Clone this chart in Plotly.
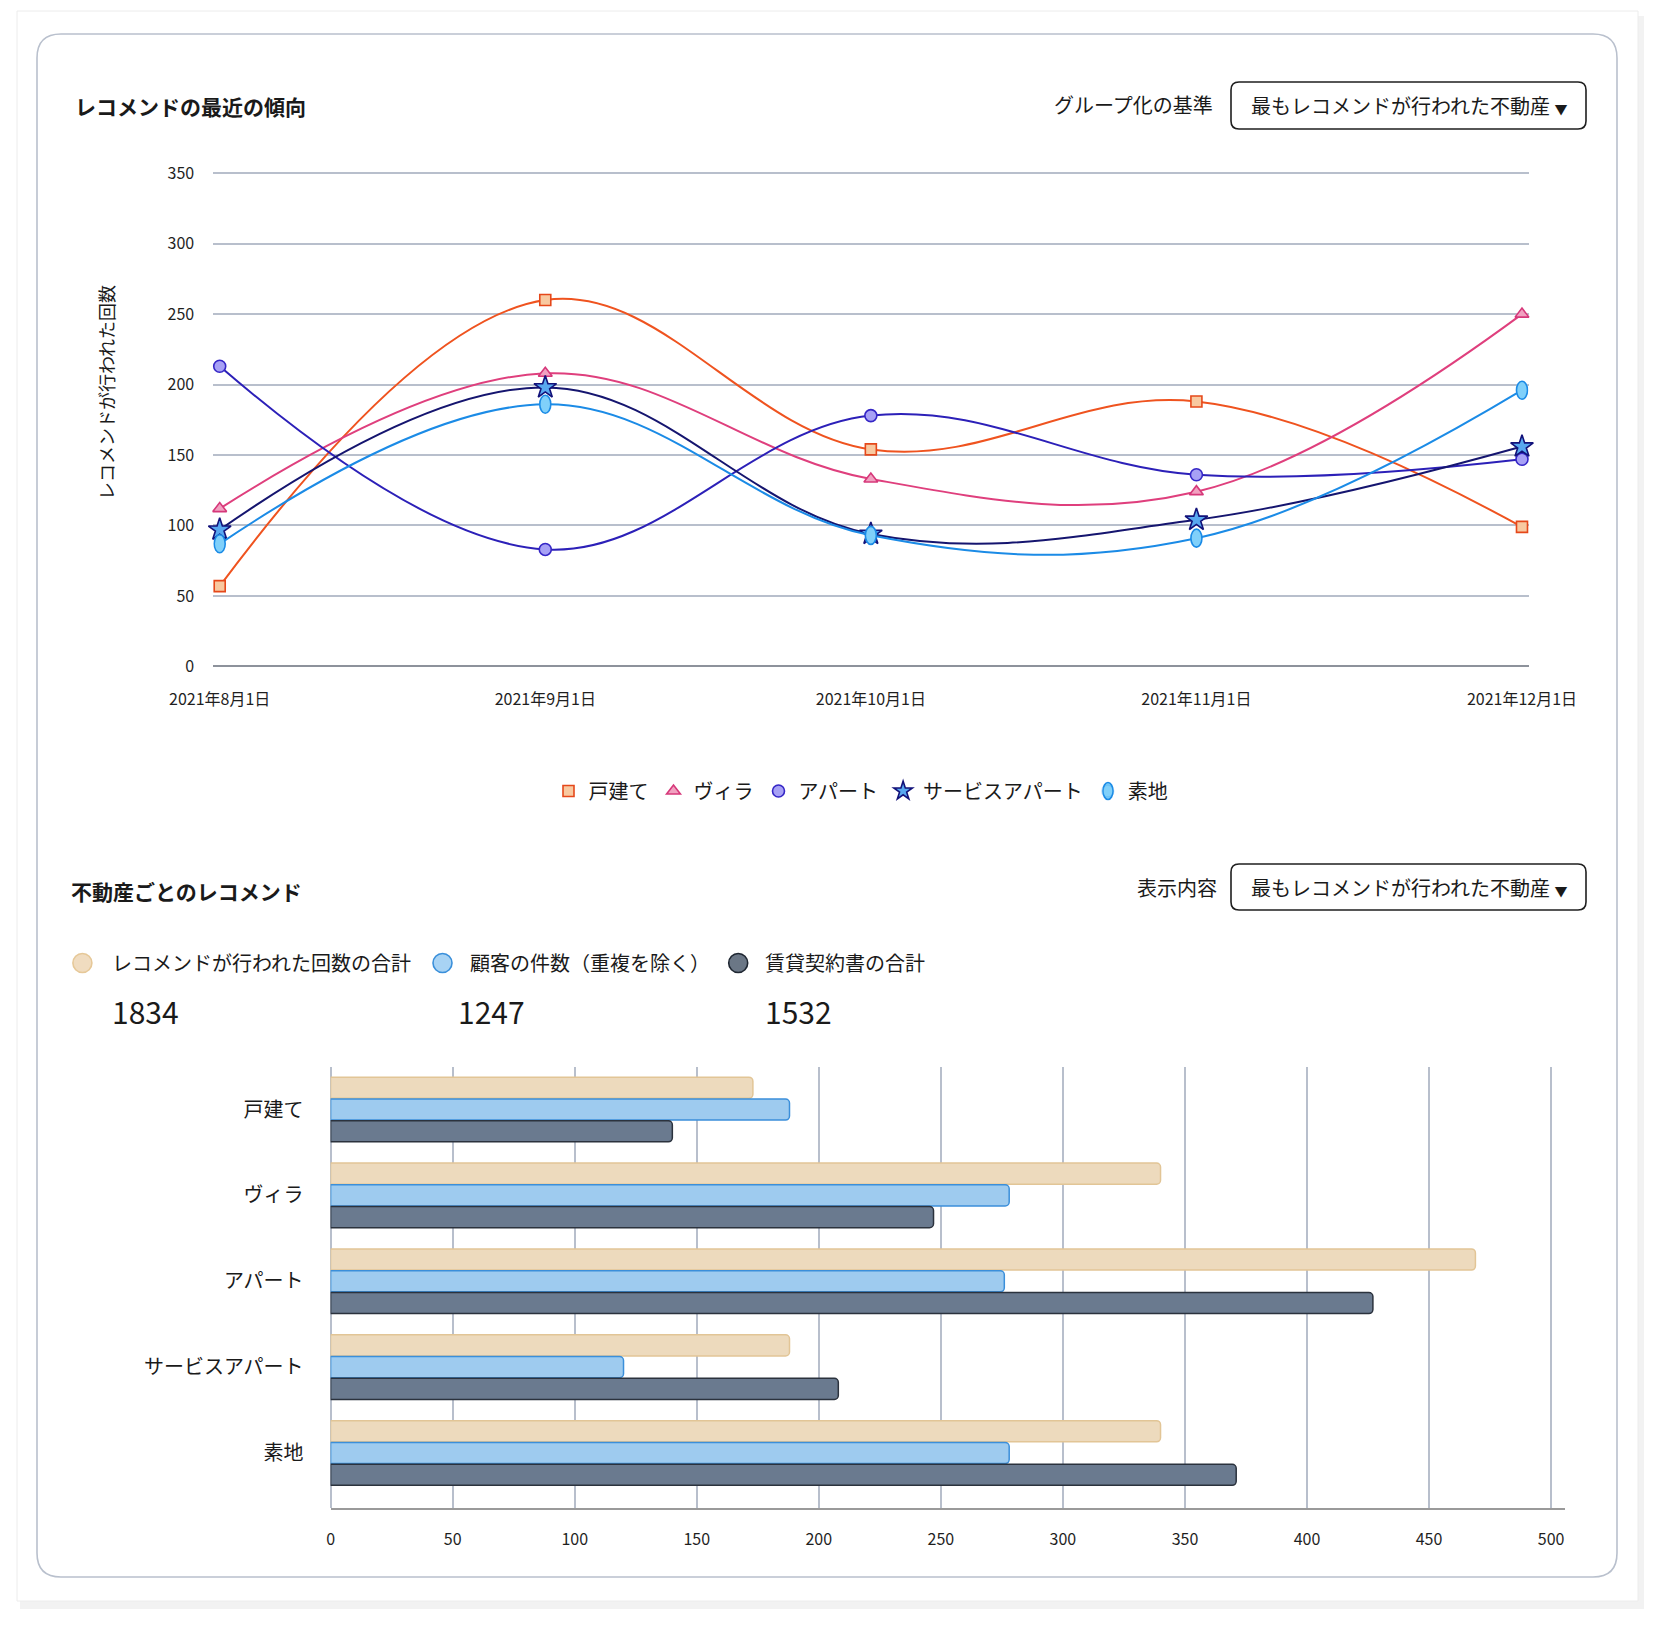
import plotly.graph_objects as go

# The page body has an 8px margin, so the figure is drawn 16px smaller and
# every layout position (measured on the full 1656x1626 page) is shifted by 8px.
PAGE_W, PAGE_H = 1656, 1626
OFF = 8
W, H = PAGE_W - 2 * OFF, PAGE_H - 2 * OFF
FONT = "Noto Sans CJK JP"

# ---------------- data ----------------
dates = ["2021年8月1日", "2021年9月1日", "2021年10月1日", "2021年11月1日", "2021年12月1日"]
detached = [57, 260, 154, 188, 99]      # 戸建て
villa = [112, 208, 133, 124, 250]       # ヴィラ
apart = [213, 83, 178, 136, 147]        # アパート
service = [97, 198, 94, 104, 156]       # サービスアパート
land = [87, 186, 93, 91, 196]           # 素地

property_types = ["戸建て", "ヴィラ", "アパート", "サービスアパート", "素地"]
rec_total = [173, 340, 469, 188, 340]
customers = [188, 278, 276, 120, 278]
contracts = [140, 247, 427, 208, 371]

summary_labels = ["レコメンドが行われた回数の合計", "顧客の件数（重複を除く）", "賃貸契約書の合計"]
summary_values = ["1834", "1247", "1532"]

line_ticks = [0, 50, 100, 150, 200, 250, 300, 350]
bar_ticks = [0, 50, 100, 150, 200, 250, 300, 350, 400, 450, 500]


def px(x):
    return (x - OFF) / W


def py(y):
    return 1 - (y - OFF) / H


# name, values, line colour, symbol (None = ellipse), fill, edge, size
series = [
    ("戸建て", detached, "#ef531f", "square", "#f8c9a0", "#e5481a", 11),
    ("ヴィラ", villa, "#df3f7d", "triangle-up", "#f1a1c0", "#d6387a", 12),
    ("アパート", apart, "#2c20b8", "circle", "#a7a1f5", "#3526c6", 12),
    ("サービスアパート", service, "#15156f", "star", "#58a8f0", "#12127a", 17),
    ("素地", land, "#1b8be6", None, "#80d0fa", "#1b8be6", 12),
]

fig = go.Figure()
shapes = []

for name, vals, lc, sym, fc, ec, sz in series:
    if sym is None:
        fig.add_trace(go.Scatter(
            x=dates, y=vals, name=name, mode="lines",
            line=dict(color=lc, width=2, shape="spline", smoothing=1.1),
            showlegend=False, xaxis="x", yaxis="y",
        ))
        # vertical ellipse markers anchored on the data values
        for d, v in zip(dates, vals):
            shapes.append(dict(type="circle", xref="x", yref="y", xsizemode="pixel", ysizemode="pixel",
                               xanchor=d, yanchor=v, x0=-5.5, x1=5.5, y0=-9, y1=9,
                               fillcolor=fc, line=dict(color=ec, width=1.6), layer="above"))
    else:
        fig.add_trace(go.Scatter(
            x=dates, y=vals, name=name, mode="lines+markers",
            line=dict(color=lc, width=2, shape="spline", smoothing=1.1),
            marker=dict(symbol=sym, size=sz, color=fc, line=dict(color=ec, width=1.6)),
            showlegend=False, cliponaxis=False, xaxis="x", yaxis="y",
        ))

for name, vals, lc, sym, fc, ec, sz in series:
    mk = dict(symbol=sym or "circle", size=min(sz, 14), color=fc, line=dict(color=ec, width=1.6))
    if sym is None:
        mk["opacity"] = 0
    fig.add_trace(go.Scatter(x=[None], y=[None], name=name, mode="markers", marker=mk,
                             showlegend=True, xaxis="x", yaxis="y"))

bar_specs = [
    (summary_labels[0], rec_total, "#eddabd", "#e2c596"),
    (summary_labels[1], customers, "#9ecbef", "#3b8fda"),
    (summary_labels[2], contracts, "#6a7a8f", "#2b323d"),
]
for name, vals, fc, ec in bar_specs:
    fig.add_trace(go.Bar(
        y=property_types, x=vals, orientation="h", name=name,
        marker=dict(color=fc, line=dict(color=ec, width=1.5)),
        showlegend=False, xaxis="x2", yaxis="y2",
    ))


# ---------------- decoration shapes ----------------
def rrect(x0, y0, x1, y1, r):
    X0, X1, Y0, Y1 = px(x0), px(x1), py(y0), py(y1)
    rx, ry = r / W, r / H
    return (f"M{X0+rx},{Y0} L{X1-rx},{Y0} Q{X1},{Y0} {X1},{Y0-ry} "
            f"L{X1},{Y1+ry} Q{X1},{Y1} {X1-rx},{Y1} L{X0+rx},{Y1} "
            f"Q{X0},{Y1} {X0},{Y1+ry} L{X0},{Y0-ry} Q{X0},{Y0} {X0+rx},{Y0} Z")


shapes += [
    dict(type="rect", xref="paper", yref="paper", x0=px(20), x1=px(1644), y0=py(1609), y1=py(16),
         fillcolor="rgba(0,0,0,0.05)", line=dict(width=0), layer="below"),
    dict(type="rect", xref="paper", yref="paper", x0=px(17), x1=px(1638), y0=py(1601), y1=py(11),
         fillcolor="white", line=dict(color="#ececec", width=1), layer="below"),
    dict(type="path", xref="paper", yref="paper", path=rrect(37, 34, 1617, 1577, 24),
         line=dict(color="#b9c0cd", width=1.6), fillcolor="rgba(0,0,0,0)", layer="below"),
    dict(type="path", xref="paper", yref="paper", path=rrect(1231, 82, 1586, 129, 8),
         line=dict(color="#1f1f1f", width=1.6), fillcolor="white", layer="below"),
    dict(type="path", xref="paper", yref="paper", path=rrect(1231, 864, 1586, 910, 8),
         line=dict(color="#1f1f1f", width=1.6), fillcolor="white", layer="below"),
    # legend icon for 素地 (vertical ellipse)
    dict(type="circle", xref="paper", yref="paper", xsizemode="pixel", ysizemode="pixel",
         xanchor=px(1108), yanchor=py(791), x0=-5, x1=5, y0=-8.5, y1=8.5,
         fillcolor="#80d0fa", line=dict(color="#1b8be6", width=1.6)),
]

circle_x = [82.4, 442.5, 738.2]
circle_fill = ["#f0dcc0", "#a8d3f4", "#6b7786"]
circle_edge = ["#e6c898", "#3a8fda", "#1f2732"]
for cx, fc, ec in zip(circle_x, circle_fill, circle_edge):
    shapes.append(dict(type="circle", xref="paper", yref="paper", xsizemode="pixel", ysizemode="pixel",
                       xanchor=px(cx), yanchor=py(963), x0=-9.5, x1=9.5, y0=-9.5, y1=9.5,
                       fillcolor=fc, line=dict(color=ec, width=1.6)))


# ---------------- annotations ----------------
def ann(text, x, y, size, xanchor="left", bold=False, angle=0, color="#1a1a1a"):
    return dict(text=f"<b>{text}</b>" if bold else text, x=px(x), y=py(y), xref="paper", yref="paper",
                xanchor=xanchor, yanchor="middle", showarrow=False, textangle=angle,
                font=dict(family=FONT, size=size, color=color))


dd_text = "最もレコメンドが行われた不動産 <span style='font-size:13px'>▼</span>"
annotations = [
    ann("レコメンドの最近の傾向", 73, 106, 21, bold=True),
    ann("グループ化の基準", 1215, 105, 20, xanchor="right"),
    ann(dd_text, 1249, 106, 20),
    ann("レコメンドが行われた回数", 106, 393, 18, xanchor="center", angle=-90),
    ann("不動産ごとのレコメンド", 69, 891, 21, bold=True),
    ann("表示内容", 1219, 887, 20, xanchor="right"),
    ann(dd_text, 1249, 887, 20),
]
label_x = [110, 467.8, 762.5]
value_x = [110, 456, 762.5]
for lx, vx, lab, val in zip(label_x, value_x, summary_labels, summary_values):
    annotations.append(ann(lab, lx, 963, 20))
    annotations.append(ann(val, vx, 1011, 30))

grid_c = "#b8bfcc"
tick_font = dict(family=FONT, size=16, color="#1f1f1f")

fig.update_layout(
    width=W, height=H,
    margin=dict(l=0, r=0, t=0, b=0, pad=0, autoexpand=False),
    paper_bgcolor="white", plot_bgcolor="rgba(0,0,0,0)",
    font=dict(family=FONT, color="#1a1a1a"),
    shapes=shapes, annotations=annotations,
    barmode="group", bargap=0.24, bargroupgap=0.03, barcornerradius=4,
    legend=dict(orientation="h", x=px(861), xanchor="center", y=py(791), yanchor="middle",
                font=dict(family=FONT, size=20, color="#1a1a1a"), bgcolor="rgba(0,0,0,0)",
                itemclick=False, itemdoubleclick=False),
    xaxis=dict(domain=[px(213.2), px(1528.5)], type="category", range=[-0.02, 4.02],
               showgrid=False, showline=False, zeroline=False, ticks="", automargin=False,
               tickfont=tick_font, ticklabelstandoff=22, anchor="y"),
    yaxis=dict(domain=[py(666.4), py(171.8)], range=[0, 351], tickvals=line_ticks,
               showgrid=True, gridcolor=grid_c, gridwidth=1.5,
               zeroline=True, zerolinecolor="#8d929b", zerolinewidth=2, automargin=False,
               showline=False, ticks="", tickfont=tick_font, ticklabelstandoff=18, anchor="x"),
    xaxis2=dict(domain=[px(330.6), px(1565)], range=[0, 505.7], tickvals=bar_ticks,
                showgrid=True, gridcolor=grid_c, gridwidth=1.5,
                zeroline=True, zerolinecolor=grid_c, zerolinewidth=1.5, automargin=False,
                showline=True, linecolor="#9a9a9a", linewidth=2, ticks="",
                tickfont=tick_font, ticklabelstandoff=16, anchor="y2"),
    yaxis2=dict(domain=[py(1508), py(1066.6)], type="category", range=[4.64, -0.5],
                showgrid=False, zeroline=False, showline=False, ticks="", automargin=False,
                tickfont=dict(family=FONT, size=20, color="#1a1a1a"), ticklabelstandoff=26,
                anchor="x2"),
)

fig.write_html("out.html")
